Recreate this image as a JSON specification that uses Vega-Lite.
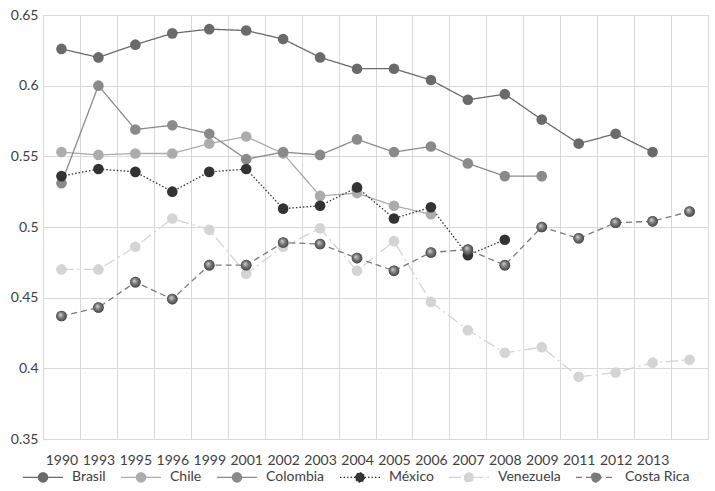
{
  "$schema": "https://vega.github.io/schema/vega-lite/v6.json",
  "width": 665,
  "height": 424,
  "autosize": {"type": "none"},
  "padding": {"left": 43, "top": 15, "right": 7, "bottom": 52},
  "background": "white",
  "config": {
    "view": {"stroke": "#d9d9d9", "strokeWidth": 1},
    "font": "Lato",
    "axis": {"labelFont": "Lato", "labelFontSize": 14, "labelColor": "#404040", "gridColor": "#d9d9d9", "gridWidth": 1},
    "legend": {"labelFont": "Lato", "labelFontSize": 14, "labelColor": "#404040"}
  },
  "data": {
    "values": [
      {"country": "Brasil", "year": "1990", "value": 0.626},
      {"country": "Brasil", "year": "1993", "value": 0.620},
      {"country": "Brasil", "year": "1995", "value": 0.629},
      {"country": "Brasil", "year": "1996", "value": 0.637},
      {"country": "Brasil", "year": "1999", "value": 0.640},
      {"country": "Brasil", "year": "2001", "value": 0.639},
      {"country": "Brasil", "year": "2002", "value": 0.633},
      {"country": "Brasil", "year": "2003", "value": 0.620},
      {"country": "Brasil", "year": "2004", "value": 0.612},
      {"country": "Brasil", "year": "2005", "value": 0.612},
      {"country": "Brasil", "year": "2006", "value": 0.604},
      {"country": "Brasil", "year": "2007", "value": 0.590},
      {"country": "Brasil", "year": "2008", "value": 0.594},
      {"country": "Brasil", "year": "2009", "value": 0.576},
      {"country": "Brasil", "year": "2011", "value": 0.559},
      {"country": "Brasil", "year": "2012", "value": 0.566},
      {"country": "Brasil", "year": "2013", "value": 0.553},
      {"country": "Chile", "year": "1990", "value": 0.553},
      {"country": "Chile", "year": "1993", "value": 0.551},
      {"country": "Chile", "year": "1995", "value": 0.552},
      {"country": "Chile", "year": "1996", "value": 0.552},
      {"country": "Chile", "year": "1999", "value": 0.559},
      {"country": "Chile", "year": "2001", "value": 0.564},
      {"country": "Chile", "year": "2002", "value": 0.552},
      {"country": "Chile", "year": "2003", "value": 0.522},
      {"country": "Chile", "year": "2004", "value": 0.524},
      {"country": "Chile", "year": "2005", "value": 0.515},
      {"country": "Chile", "year": "2006", "value": 0.509},
      {"country": "Colombia", "year": "1990", "value": 0.531},
      {"country": "Colombia", "year": "1993", "value": 0.600},
      {"country": "Colombia", "year": "1995", "value": 0.569},
      {"country": "Colombia", "year": "1996", "value": 0.572},
      {"country": "Colombia", "year": "1999", "value": 0.566},
      {"country": "Colombia", "year": "2001", "value": 0.548},
      {"country": "Colombia", "year": "2002", "value": 0.553},
      {"country": "Colombia", "year": "2003", "value": 0.551},
      {"country": "Colombia", "year": "2004", "value": 0.562},
      {"country": "Colombia", "year": "2005", "value": 0.553},
      {"country": "Colombia", "year": "2006", "value": 0.557},
      {"country": "Colombia", "year": "2007", "value": 0.545},
      {"country": "Colombia", "year": "2008", "value": 0.536},
      {"country": "Colombia", "year": "2009", "value": 0.536},
      {"country": "México", "year": "1990", "value": 0.536},
      {"country": "México", "year": "1993", "value": 0.541},
      {"country": "México", "year": "1995", "value": 0.539},
      {"country": "México", "year": "1996", "value": 0.525},
      {"country": "México", "year": "1999", "value": 0.539},
      {"country": "México", "year": "2001", "value": 0.541},
      {"country": "México", "year": "2002", "value": 0.513},
      {"country": "México", "year": "2003", "value": 0.515},
      {"country": "México", "year": "2004", "value": 0.528},
      {"country": "México", "year": "2005", "value": 0.506},
      {"country": "México", "year": "2006", "value": 0.514},
      {"country": "México", "year": "2007", "value": 0.480},
      {"country": "México", "year": "2008", "value": 0.491},
      {"country": "Venezuela", "year": "1990", "value": 0.470},
      {"country": "Venezuela", "year": "1993", "value": 0.470},
      {"country": "Venezuela", "year": "1995", "value": 0.486},
      {"country": "Venezuela", "year": "1996", "value": 0.506},
      {"country": "Venezuela", "year": "1999", "value": 0.498},
      {"country": "Venezuela", "year": "2001", "value": 0.467},
      {"country": "Venezuela", "year": "2002", "value": 0.486},
      {"country": "Venezuela", "year": "2003", "value": 0.499},
      {"country": "Venezuela", "year": "2004", "value": 0.469},
      {"country": "Venezuela", "year": "2005", "value": 0.490},
      {"country": "Venezuela", "year": "2006", "value": 0.447},
      {"country": "Venezuela", "year": "2007", "value": 0.427},
      {"country": "Venezuela", "year": "2008", "value": 0.411},
      {"country": "Venezuela", "year": "2009", "value": 0.415},
      {"country": "Venezuela", "year": "2011", "value": 0.394},
      {"country": "Venezuela", "year": "2012", "value": 0.397},
      {"country": "Venezuela", "year": "2013", "value": 0.404},
      {"country": "Venezuela", "year": " ", "value": 0.406},
      {"country": "Costa Rica", "year": "1990", "value": 0.437},
      {"country": "Costa Rica", "year": "1993", "value": 0.443},
      {"country": "Costa Rica", "year": "1995", "value": 0.461},
      {"country": "Costa Rica", "year": "1996", "value": 0.449},
      {"country": "Costa Rica", "year": "1999", "value": 0.473},
      {"country": "Costa Rica", "year": "2001", "value": 0.473},
      {"country": "Costa Rica", "year": "2002", "value": 0.489},
      {"country": "Costa Rica", "year": "2003", "value": 0.488},
      {"country": "Costa Rica", "year": "2004", "value": 0.478},
      {"country": "Costa Rica", "year": "2005", "value": 0.469},
      {"country": "Costa Rica", "year": "2006", "value": 0.482},
      {"country": "Costa Rica", "year": "2007", "value": 0.484},
      {"country": "Costa Rica", "year": "2008", "value": 0.473},
      {"country": "Costa Rica", "year": "2009", "value": 0.500},
      {"country": "Costa Rica", "year": "2011", "value": 0.492},
      {"country": "Costa Rica", "year": "2012", "value": 0.503},
      {"country": "Costa Rica", "year": "2013", "value": 0.504},
      {"country": "Costa Rica", "year": " ", "value": 0.511}
    ]
  },
  "encoding": {
    "x": {
      "field": "year",
      "type": "ordinal",
      "bandPosition": 0.5,
      "scale": {
        "type": "band",
        "domain": ["1990", "1993", "1995", "1996", "1999", "2001", "2002", "2003", "2004", "2005", "2006", "2007", "2008", "2009", "2011", "2012", "2013", " "],
        "paddingInner": 0,
        "paddingOuter": 0
      },
      "axis": {"title": null, "tickBand": "extent", "grid": true, "ticks": false, "domain": false, "labelAngle": 0, "labelPadding": 14}
    },
    "y": {
      "field": "value",
      "type": "quantitative",
      "scale": {"domain": [0.35, 0.65], "nice": false, "zero": false},
      "axis": {"title": null, "values": [0.35, 0.4, 0.45, 0.5, 0.55, 0.6, 0.65], "format": ".2~f", "grid": true, "ticks": false, "domain": false, "labelPadding": 5}
    }
  },
  "layer": [
    {
      "mark": {"type": "line", "strokeWidth": 1.3},
      "encoding": {
        "color": {
          "field": "country",
          "type": "nominal",
          "scale": {
            "domain": ["Brasil", "Chile", "Colombia", "México", "Venezuela", "Costa Rica"],
            "range": ["#6a6a6a", "#acacac", "#8a8a8a", "#333333", "#d4d4d4", "#7a7a7a"]
          },
          "legend": {
            "title": null,
            "orient": "none",
            "direction": "horizontal",
            "legendX": -21,
            "legendY": 441,
            "symbolType": "M-1,0L1,0M-0.23,0A0.23,0.23,0,1,1,0.23,0A0.23,0.23,0,1,1,-0.23,0Z",
            "symbolSize": 1600,
            "symbolStrokeWidth": 1.3,
            "labelOffset": 8,
            "columnPadding": 12,
            "encode": {
              "symbols": {
                "update": {
                  "fill": {"scale": "color", "field": "value"},
                  "stroke": {"scale": "color", "field": "value"},
                  "opacity": {"value": 1}
                }
              }
            }
          }
        },
        "strokeDash": {
          "field": "country",
          "type": "nominal",
          "scale": {
            "domain": ["Brasil", "Chile", "Colombia", "México", "Venezuela", "Costa Rica"],
            "range": [[1, 0], [1, 0], [1, 0], [1.5, 2], [12, 4, 2, 4], [6, 4]]
          },
          "legend": {"title": null}
        }
      }
    },
    {
      "mark": {"type": "point", "filled": true, "size": 113, "opacity": 1},
      "encoding": {
        "color": {"field": "country", "type": "nominal"}
      }
    },
    {
      "transform": [{"filter": "datum.country === 'Costa Rica'"}],
      "mark": {
        "type": "point",
        "filled": true,
        "size": 113,
        "opacity": 1,
        "fill": {
          "gradient": "radial",
          "x1": 0.38, "y1": 0.35, "r1": 0,
          "x2": 0.5, "y2": 0.5, "r2": 0.55,
          "stops": [
            {"offset": 0, "color": "#d8d8d8"},
            {"offset": 0.45, "color": "#808080"},
            {"offset": 1, "color": "#3c3c3c"}
          ]
        }
      }
    }
  ]
}
